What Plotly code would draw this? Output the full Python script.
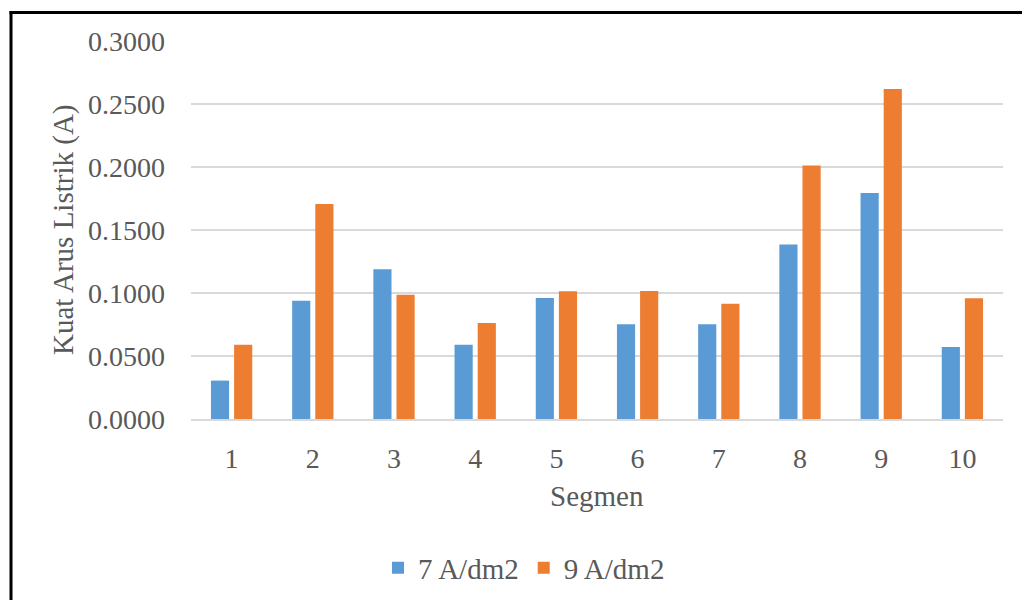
import plotly.graph_objects as go

categories = ["1", "2", "3", "4", "5", "6", "7", "8", "9", "10"]
series_names = ["7 A/dm2", "9 A/dm2"]
values_7 = [0.0305, 0.0939, 0.1188, 0.0590, 0.0960, 0.0751, 0.0751, 0.1384, 0.1794, 0.0571]
values_9 = [0.0590, 0.1706, 0.0987, 0.0762, 0.1013, 0.1016, 0.0915, 0.2011, 0.2619, 0.0958]
y_ticks = [0.0, 0.05, 0.10, 0.15, 0.20, 0.25, 0.30]
x_title = "Segmen"
y_title = "Kuat Arus Listrik (A)"

FONT = "'Liberation Serif', 'Times New Roman', 'DejaVu Serif', serif"
TXT = "#595959"
W, H = 1022, 600
L, R, T, B = 191, 19, 41, 181
pw, ph = W - L - R, H - T - B

def px_x(x):
    return (x - L) / pw

def px_y(y):
    return (H - B - y) / ph

fig = go.Figure()
fig.add_trace(go.Bar(x=categories, y=values_7, name=series_names[0],
                     marker=dict(color="#5B9BD5", line=dict(width=0))))
fig.add_trace(go.Bar(x=categories, y=values_9, name=series_names[1],
                     marker=dict(color="#ED7D31", line=dict(width=0))))

fig.update_layout(
    width=W, height=H,
    margin=dict(l=L, r=R, t=T, b=B, pad=0),
    paper_bgcolor="white", plot_bgcolor="white",
    barmode="group", bargap=0.43, bargroupgap=0.215,
    font=dict(family=FONT, color=TXT, size=28),
    showlegend=True,
    legend=dict(orientation="h", xref="container", yref="container",
                x=524 / W, xanchor="center", y=1 - 568 / H, yanchor="middle",
                font=dict(family=FONT, size=29, color=TXT),
                traceorder="normal", itemwidth=30),
    xaxis=dict(type="category", range=[-0.5, 9.5], showgrid=False,
               showline=True, linecolor="#D9D9D9", linewidth=1.5,
               ticks="", tickfont=dict(family=FONT, size=28, color=TXT),
               ticklabelstandoff=14),
    yaxis=dict(range=[0, 0.3], tickvals=y_ticks, tickformat=".4f",
               showgrid=True, gridcolor="#D9D9D9", gridwidth=1.5,
               zeroline=False, showline=False, ticks="",
               tickfont=dict(family=FONT, size=28, color=TXT),
               ticklabelstandoff=25),
    annotations=[
        dict(text=y_title, xref="paper", yref="paper", x=px_x(63), y=0.5,
             xanchor="center", yanchor="middle", textangle=-90, showarrow=False,
             font=dict(family=FONT, size=29, color=TXT)),
        dict(text=x_title, xref="paper", yref="paper", x=0.5, y=px_y(496),
             xanchor="center", yanchor="middle", showarrow=False,
             font=dict(family=FONT, size=29, color=TXT)),
    ],
    shapes=[
        dict(type="line", xref="paper", yref="paper",
             x0=px_x(9.5), x1=px_x(1030), y0=px_y(12.5), y1=px_y(12.5),
             line=dict(color="black", width=3)),
        dict(type="line", xref="paper", yref="paper",
             x0=px_x(11), x1=px_x(11), y0=px_y(11), y1=px_y(610),
             line=dict(color="black", width=3)),
    ],
)

fig.write_html("out.html",
               config={"displayModeBar": False},
               post_script="document.body.style.margin='0';document.body.style.padding='0';")
